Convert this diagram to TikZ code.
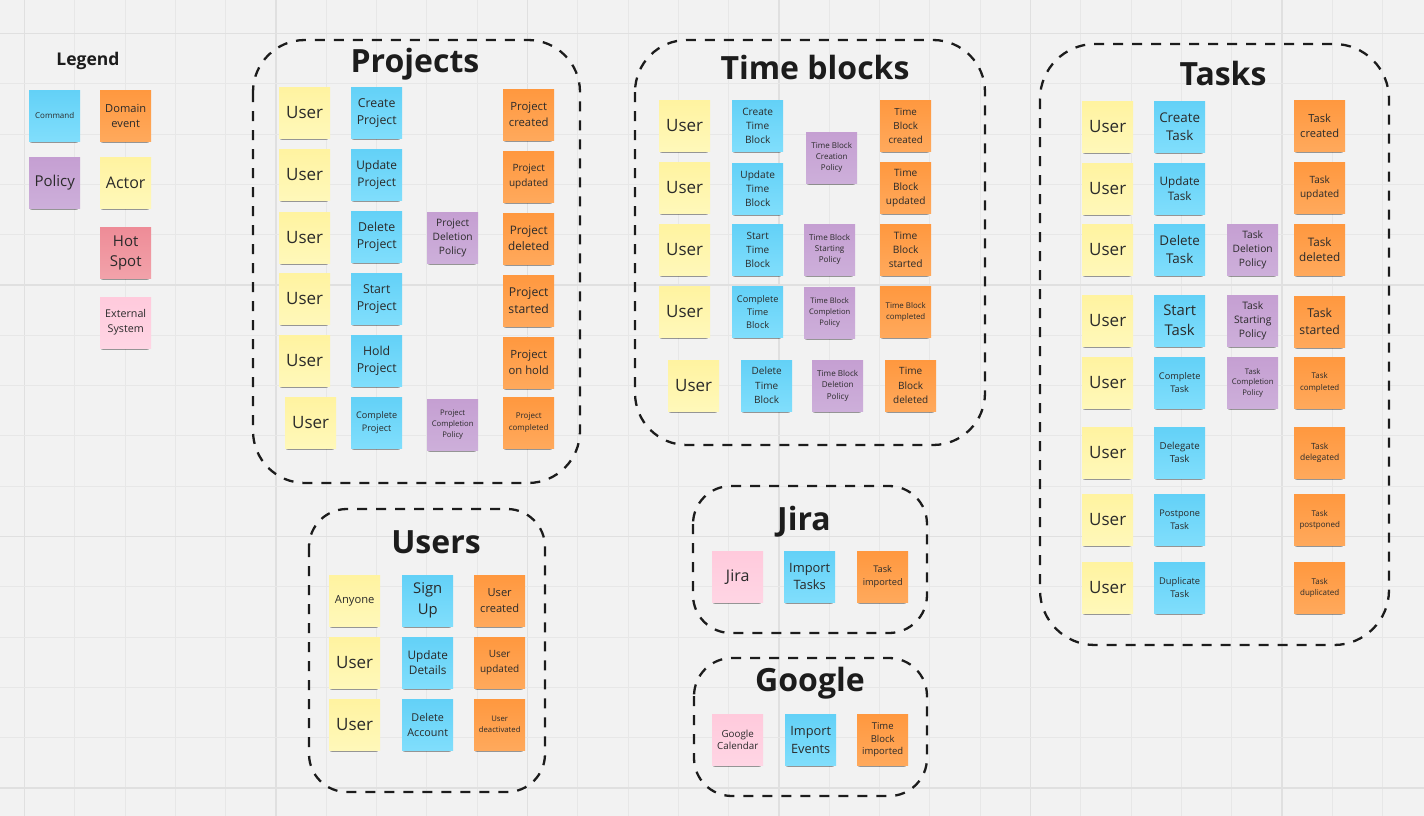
\documentclass[tikz,border=0pt]{standalone}
\usepackage{fontspec}
\setmainfont{Open Sans}
\usetikzlibrary{shadows}
\definecolor{bg}{HTML}{F2F2F2}
\definecolor{gridminor}{HTML}{E7E7E7}
\definecolor{gridmajor}{HTML}{E0E0E0}
\definecolor{ink}{HTML}{1C1C1C}
\definecolor{notetext}{HTML}{2A2A2A}
\definecolor{yelT}{HTML}{FFF3A0}\definecolor{yelB}{HTML}{FFF8BA}
\definecolor{bluT}{HTML}{63D1F7}\definecolor{bluB}{HTML}{80DEFC}
\definecolor{oraT}{HTML}{FF983F}\definecolor{oraB}{HTML}{FFA95C}
\definecolor{purT}{HTML}{C59FD2}\definecolor{purB}{HTML}{CDAFDA}
\definecolor{redT}{HTML}{EE8C97}\definecolor{redB}{HTML}{F2A2AA}
\definecolor{pnkT}{HTML}{FFCADC}\definecolor{pnkB}{HTML}{FFD5E4}
\tikzset{
  sn/.style={anchor=north west, minimum width=51pt, minimum height=51pt, inner sep=0pt,
    align=center, text=notetext,
    general shadow={fill=black, opacity=0.10, shadow xshift=-1pt, shadow yshift=-6.5pt, shadow scale=0.86},
    general shadow={fill=black, opacity=0.16, shadow xshift=-1pt, shadow yshift=-5pt, shadow scale=0.9},
    general shadow={fill=black, opacity=0.18, shadow xshift=-0.5pt, shadow yshift=-3.5pt, shadow scale=0.94}},
  yel/.style={sn, top color=yelT, bottom color=yelB},
  blu/.style={sn, top color=bluT, bottom color=bluB},
  ora/.style={sn, top color=oraT, bottom color=oraB},
  pur/.style={sn, top color=purT, bottom color=purB},
  rednote/.style={sn, top color=redT, bottom color=redB},
  pnk/.style={sn, top color=pnkT, bottom color=pnkB},
  fs/.style 2 args={font=\fontsize{#1}{#2}\selectfont},
  usr/.style={yel, fs={17}{22}},
  frame/.style={draw=ink, line width=2.3pt, dash pattern=on 10pt off 9pt},
  ttl/.style={anchor=base, text=ink, font=\fontsize{32}{38}\selectfont\bfseries, inner sep=0pt},
}
\begin{document}
\begin{tikzpicture}[x=1pt,y=-1pt]
\useasboundingbox (0,0) rectangle (1424,816);
\fill[bg] (0,0) rectangle (1424,816);
% grid
\foreach \k in {0,...,27}{
  \pgfmathtruncatemacro{\m}{mod(\k,5)}
  \ifnum\m=0 \draw[gridmajor, line width=1.5pt] ({24.5+50.3*\k},0) -- ({24.5+50.3*\k},816);
  \else \draw[gridminor, line width=0.9pt] ({24.5+50.3*\k},0) -- ({24.5+50.3*\k},816); \fi
}
\foreach \k in {0,...,15}{
  \pgfmathtruncatemacro{\m}{mod(\k,5)}
  \ifnum\m=0 \draw[gridmajor, line width=1.5pt] (0,{33.5+50.3*\k}) -- (1424,{33.5+50.3*\k});
  \else \draw[gridminor, line width=0.9pt] (0,{33.5+50.3*\k}) -- (1424,{33.5+50.3*\k}); \fi
}

% ---------------- Legend
\node[anchor=base, text=ink, font=\fontsize{17.5}{21}\selectfont\bfseries, inner sep=0pt] (legend) at (88,66) {Legend};
\node[blu, fs={8}{10}] (lg-cmd) at (29,90) {Command};
\node[ora, fs={11.1}{15}] (lg-dev) at (100,90) {Domain\\event};
\node[pur, fs={15}{19}] (lg-pol) at (29,157) {Policy};
\node[yel, fs={16}{20}] (lg-act) at (100,157) {Actor};
\node[rednote, fs={15}{20.5}] (lg-hot) at (100,227) {Hot\\Spot};
\node[pnk, fs={10.7}{15}] (lg-ext) at (100,297) {External\\System};

% ---------------- Projects
\draw[frame, rounded corners=52pt] (253,40) rectangle (580,483);
\node[ttl] (t-proj) at (415,72.7) {Projects};
\node[usr] (p-u1) at (279,87) {User};
\node[usr] (p-u2) at (279,149) {User};
\node[usr] (p-u3) at (279,212) {User};
\node[usr] (p-u4) at (279,273) {User};
\node[usr] (p-u5) at (279,335) {User};
\node[usr] (p-u6) at (285,397) {User};
\node[blu, fs={12.3}{16.7}] (p-c1) at (351,87) {Create\\Project};
\node[blu, fs={11.9}{16.5}] (p-c2) at (351,149) {Update\\Project};
\node[blu, fs={12.3}{16.7}] (p-c3) at (351,211) {Delete\\Project};
\node[blu, fs={12.3}{16.7}] (p-c4) at (351,273) {Start\\Project};
\node[blu, fs={12.3}{16.7}] (p-c5) at (351,335) {Hold\\Project};
\node[blu, fs={9.1}{12.7}] (p-c6) at (351,397) {Complete\\Project};
\node[pur, fs={10.2}{14}] (p-p3) at (427,212) {Project\\Deletion\\Policy};
\node[pur, fs={7.7}{10.8}] (p-p6) at (427,399) {Project\\Completion\\Policy};
\node[ora, fs={11.3}{16}] (p-e1) at (503,89) {Project\\created};
\node[ora, fs={10}{15}] (p-e2) at (503,151) {Project\\updated};
\node[ora, fs={11.7}{16}] (p-e3) at (503,213) {Project\\deleted};
\node[ora, fs={12.2}{16.7}] (p-e4) at (503,275) {Project\\started};
\node[ora, fs={11.3}{16}] (p-e5) at (503,337) {Project\\on hold};
\node[ora, fs={8}{12}] (p-e6) at (503,397) {Project\\completed};

% ---------------- Time blocks
\draw[frame, rounded corners=52pt] (635,40) rectangle (985,445);
\node[ttl] (t-tb) at (815,80) {Time blocks};
\node[usr] (b-u1) at (659,100) {User};
\node[usr] (b-u2) at (659,162) {User};
\node[usr] (b-u3) at (659,224) {User};
\node[usr] (b-u4) at (659,286) {User};
\node[usr] (b-u5) at (668,360) {User};
\node[blu, fs={10.1}{14}] (b-c1) at (732,100) {Create\\Time\\Block};
\node[blu, fs={10.1}{14}] (b-c2) at (732,163) {Update\\Time\\Block};
\node[blu, fs={10}{14}] (b-c3) at (732,224) {Start\\Time\\Block};
\node[blu, fs={9.2}{13}] (b-c4) at (732,286) {Complete\\Time\\Block};
\node[blu, fs={10}{14.5}] (b-c5) at (741,360) {Delete\\Time\\Block};
\node[pur, fs={8}{11}] (b-p1) at (806,132) {Time Block\\Creation\\Policy};
\node[pur, fs={8.1}{11}] (b-p3) at (804,224) {Time Block\\Starting\\Policy};
\node[pur, fs={7.6}{11}] (b-p4) at (804,287) {Time Block\\Completion\\Policy};
\node[pur, fs={8.1}{11.5}] (b-p5) at (812,360) {Time Block\\Deletion\\Policy};
\node[ora, fs={9.8}{14}] (b-e1) at (880,100) {Time\\Block\\created};
\node[ora, fs={10.1}{14}] (b-e2) at (880,162) {Time\\Block\\updated};
\node[ora, fs={10.2}{14}] (b-e3) at (880,224) {Time\\Block\\started};
\node[ora, fs={7.9}{11}] (b-e4) at (880,286) {Time Block\\completed};
\node[ora, fs={10}{14.5}] (b-e5) at (885,360) {Time\\Block\\deleted};

% ---------------- Tasks
\draw[frame, rounded corners=55pt] (1040,44) rectangle (1389,645);
\node[ttl] (t-task) at (1223,85.7) {Tasks};
\foreach \y [count=\i] in {101,163,224,295,357,427,494,562}
  \node[usr] (k-u\i) at (1082,\y) {User};
\node[blu, fs={13.4}{18}] (k-c1) at (1154,101) {Create\\Task};
\node[blu, fs={11.7}{15.7}] (k-c2) at (1154,163) {Update\\Task};
\node[blu, fs={13.4}{17.7}] (k-c3) at (1154,224) {Delete\\Task};
\node[blu, fs={14.8}{20}] (k-c4) at (1154,295) {Start\\Task};
\node[blu, fs={9.2}{12.7}] (k-c5) at (1154,357) {Complete\\Task};
\node[blu, fs={9.7}{13.3}] (k-c6) at (1154,427) {Delegate\\Task};
\node[blu, fs={9.2}{12.7}] (k-c7) at (1154,494) {Postpone\\Task};
\node[blu, fs={9.3}{12.7}] (k-c8) at (1154,562) {Duplicate\\Task};
\node[pur, fs={10.2}{14}] (k-p3) at (1227,224) {Task\\Deletion\\Policy};
\node[pur, fs={10.3}{14}] (k-p4) at (1227,295) {Task\\Starting\\Policy};
\node[pur, fs={7.7}{10.5}] (k-p5) at (1227,357) {Task\\Completion\\Policy};
\node[ora, fs={11.1}{15.7}] (k-e1) at (1294,100) {Task\\created};
\node[ora, fs={10}{14.3}] (k-e2) at (1294,162) {Task\\updated};
\node[ora, fs={11.7}{15.3}] (k-e3) at (1294,224) {Task\\deleted};
\node[ora, fs={12.2}{17}] (k-e4) at (1294,296) {Task\\started};
\node[ora, fs={7.9}{11.7}] (k-e5) at (1294,357) {Task\\completed};
\node[ora, fs={8.5}{11.7}] (k-e6) at (1294,427) {Task\\delegated};
\node[ora, fs={8}{11}] (k-e7) at (1294,494) {Task\\postponed};
\node[ora, fs={8}{11}] (k-e8) at (1294,562) {Task\\duplicated};

% ---------------- Users
\draw[frame, rounded corners=38pt] (309,509) rectangle (545,792);
\node[ttl] (t-usr) at (436,553.3) {Users};
\node[yel, fs={11.2}{15}] (u-u1) at (329,575) {Anyone};
\node[usr] (u-u2) at (329,637) {User};
\node[usr] (u-u3) at (329,699) {User};
\node[blu, fs={14.8}{21}] (u-c1) at (402,575) {Sign\\Up};
\node[blu, fs={11.8}{15.7}] (u-c2) at (402,637) {Update\\Details};
\node[blu, fs={10.8}{15}] (u-c3) at (402,699) {Delete\\Account};
\node[ora, fs={11.1}{15.7}] (u-e1) at (474,575) {User\\created};
\node[ora, fs={10}{14.3}] (u-e2) at (474,637) {User\\updated};
\node[ora, fs={7.7}{11}] (u-e3) at (474,699) {User\\deactivated};

% ---------------- Jira
\draw[frame, rounded corners=38pt] (693,486) rectangle (927,633);
\node[ttl] (t-jira) at (804,530) {Jira};
\node[pnk, fs={16}{20}] (j-x) at (712,551) {Jira};
\node[blu, fs={12.9}{16.7}] (j-c) at (784,551) {Import\\Tasks};
\node[ora, fs={9.2}{13.3}] (j-e) at (857,551) {Task\\imported};

% ---------------- Google
\draw[frame, rounded corners=38pt] (694,658) rectangle (927,796);
\node[ttl] (t-goog) at (810,691.7) {Google};
\node[pnk, fs={9.8}{12.7}] (g-x) at (712,714) {Google\\Calendar};
\node[blu, fs={12.8}{17.7}] (g-c) at (785,714) {Import\\Events};
\node[ora, fs={9.5}{12.5}] (g-e) at (857,714) {Time\\Block\\imported};
\end{tikzpicture}
\end{document}
